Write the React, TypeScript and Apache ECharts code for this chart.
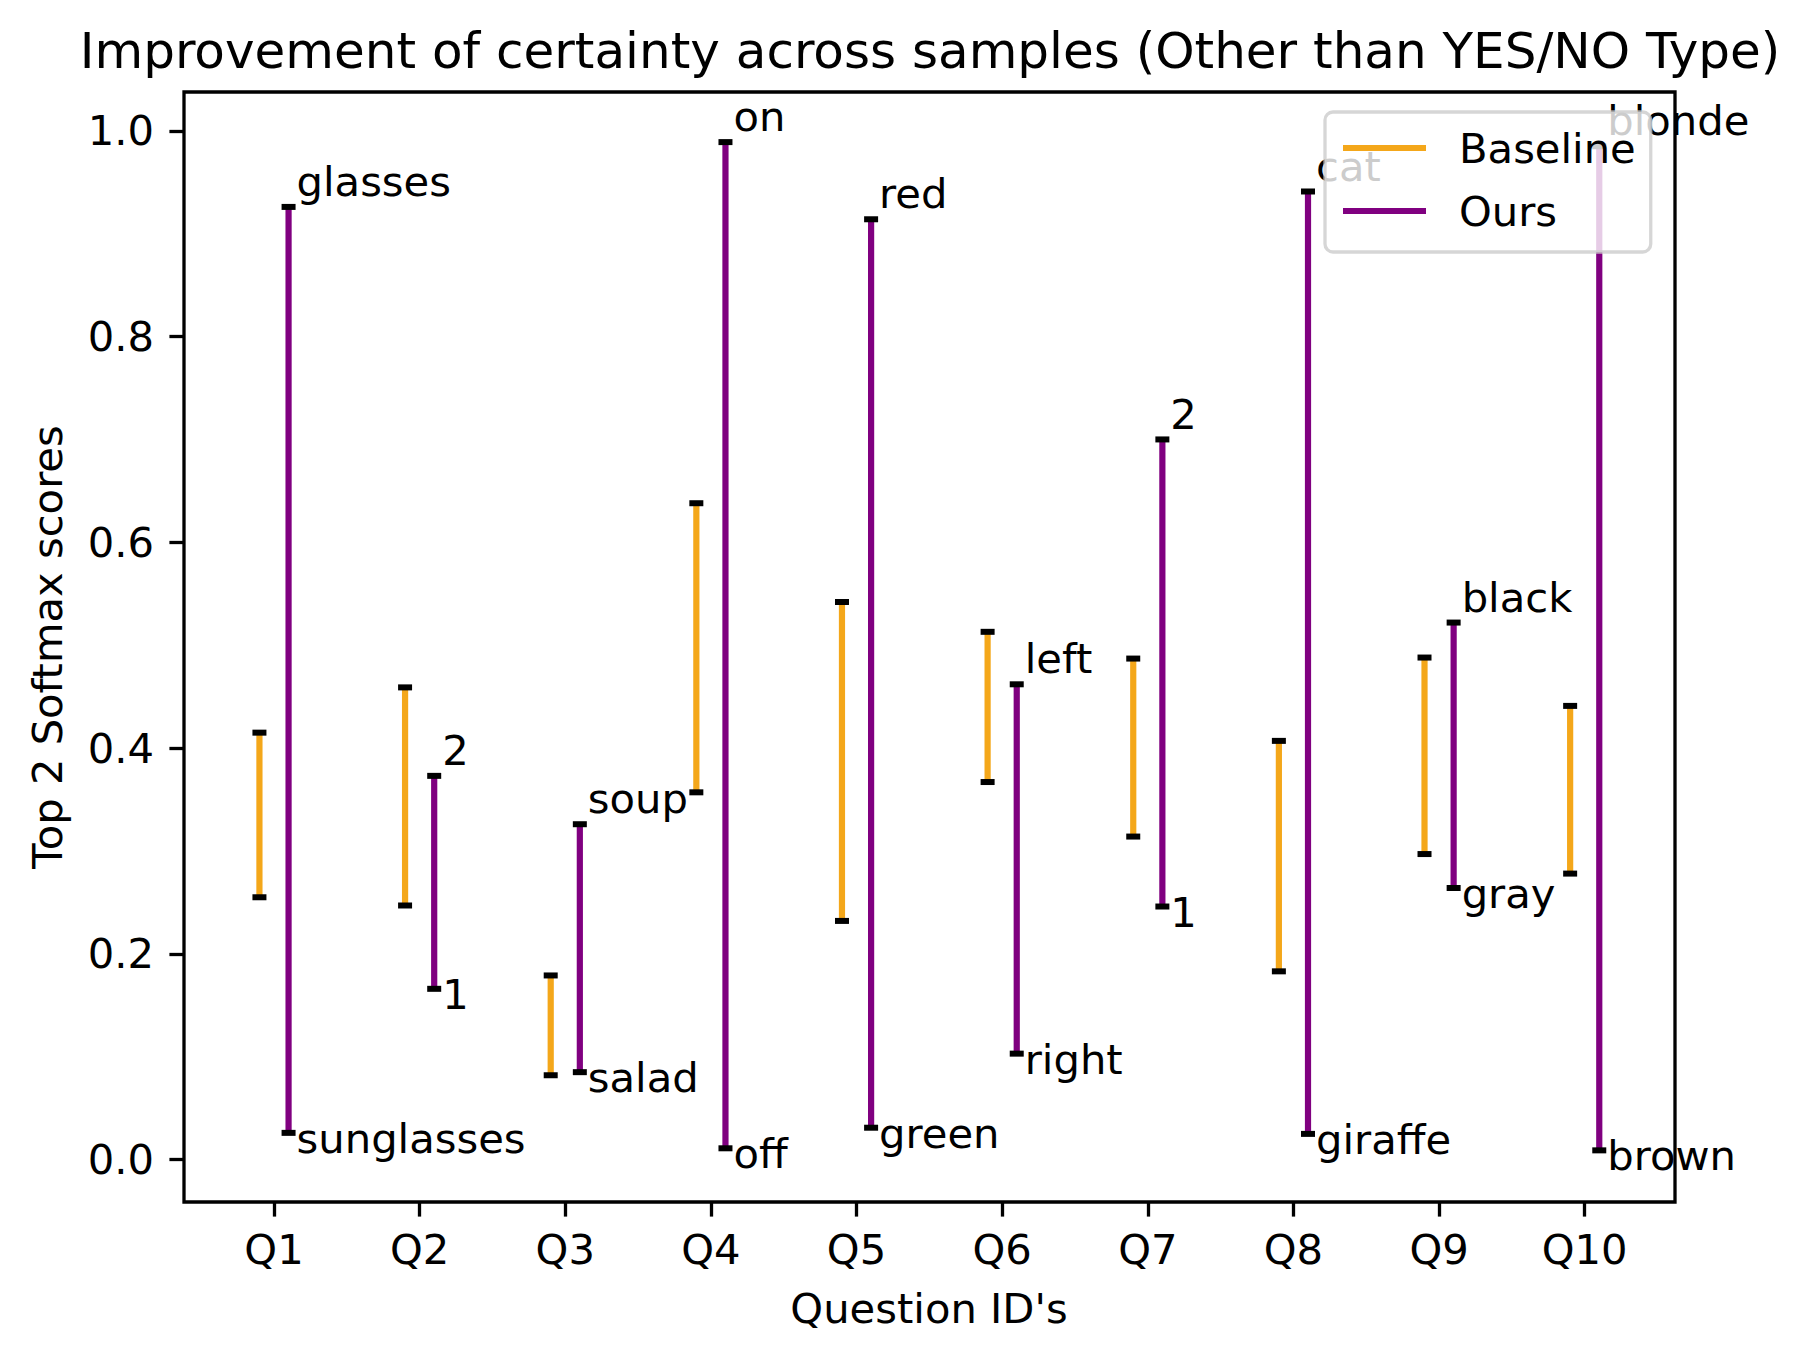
import React, { useEffect, useRef } from "react";
import * as echarts from "echarts";

const categories = ["Q1", "Q2", "Q3", "Q4", "Q5", "Q6", "Q7", "Q8", "Q9", "Q10"];
const baselineLow = [0.255, 0.247, 0.082, 0.357, 0.232, 0.367, 0.314, 0.183, 0.297, 0.278];
const baselineHigh = [0.415, 0.459, 0.179, 0.638, 0.542, 0.513, 0.487, 0.407, 0.488, 0.441];
const oursLow = [0.026, 0.166, 0.085, 0.011, 0.031, 0.103, 0.246, 0.025, 0.264, 0.009];
const oursHigh = [0.926, 0.373, 0.326, 0.989, 0.914, 0.462, 0.7, 0.941, 0.522, 0.985];
const topLabels = ["glasses", "2", "soup", "on", "red", "left", "2", "cat", "black", "blonde"];
const bottomLabels = ["sunglasses", "1", "salad", "off", "green", "right", "1", "giraffe", "gray", "brown"];
const yTicks = [0, 0.2, 0.4, 0.6, 0.8, 1.0];
const xTicks = [1, 2, 3, 4, 5, 6, 7, 8, 9, 10];

const FONT = "DejaVu Sans";
const FS = 41.7;
const TITLE_FS = 50;
const MID = 0.346 * FS;
const ORANGE = "#F4A71A";
const PURPLE = "#800080";

function makeRender(withLabels: boolean, color: string) {
  return (params: any, api: any) => {
    const x = api.value(0);
    const lo = api.value(1);
    const hi = api.value(2);
    const pLo = api.coord([x, lo]);
    const pHi = api.coord([x, hi]);
    const children: any[] = [
      {
        type: "line",
        shape: { x1: pLo[0], y1: pLo[1], x2: pHi[0], y2: pHi[1] },
        style: { stroke: color, lineWidth: 6.2 },
      },
      {
        type: "line",
        shape: { x1: pLo[0] - 7, y1: pLo[1], x2: pLo[0] + 7, y2: pLo[1] },
        style: { stroke: "#000", lineWidth: 6 },
      },
      {
        type: "line",
        shape: { x1: pHi[0] - 7, y1: pHi[1], x2: pHi[0] + 7, y2: pHi[1] },
        style: { stroke: "#000", lineWidth: 6 },
      },
    ];
    if (withLabels) {
      const idx = params.dataIndex;
      children.push({
        type: "text",
        x: pHi[0] + 8,
        y: pHi[1] - 11 - MID,
        style: {
          text: topLabels[idx],
          fontSize: FS,
          fontFamily: FONT,
          fill: "#000",
          align: "left",
          verticalAlign: "middle",
        },
      });
      children.push({
        type: "text",
        x: pLo[0] + 8,
        y: pLo[1] + 20 - MID,
        style: {
          text: bottomLabels[idx],
          fontSize: FS,
          fontFamily: FONT,
          fill: "#000",
          align: "left",
          verticalAlign: "middle",
        },
      });
    }
    return { type: "group", children };
  };
}

export default function App() {
  const ref = useRef<HTMLDivElement>(null);
  useEffect(() => {
    if (!ref.current) return;
    const chart = echarts.init(ref.current, undefined, { renderer: "svg" });
    const baselineData = categories.map((_, i) => [i + 1 - 0.1, baselineLow[i], baselineHigh[i]]);
    const oursData = categories.map((_, i) => [i + 1 + 0.1, oursLow[i], oursHigh[i]]);
    chart.setOption({
      animation: false,
      backgroundColor: "#fff",
      grid: {
        left: 184,
        top: 92,
        width: 1491,
        height: 1110,
        show: true,
        borderColor: "#000",
        borderWidth: 3.3,
        backgroundColor: "transparent",
      },
      xAxis: {
        type: "value",
        min: 0.382,
        max: 10.62,
        splitLine: { show: false },
        axisLine: { show: false, onZero: false },
        axisTick: {
          show: true,
          customValues: xTicks,
          length: 14.6,
          lineStyle: { color: "#000", width: 3.3 },
        },
        axisLabel: {
          customValues: xTicks,
          formatter: (v: number) => categories[Math.round(v) - 1],
          margin: 26,
          fontSize: FS,
          fontFamily: FONT,
          color: "#000",
        },
      },
      yAxis: {
        type: "value",
        min: -0.0412,
        max: 1.0377,
        splitLine: { show: false },
        axisLine: { show: false, onZero: false },
        axisTick: {
          show: true,
          customValues: yTicks,
          length: 14.6,
          lineStyle: { color: "#000", width: 3.3 },
        },
        axisLabel: {
          customValues: yTicks,
          formatter: (v: number) => v.toFixed(1),
          margin: 30,
          fontSize: FS,
          fontFamily: FONT,
          color: "#000",
        },
      },
      legend: {
        orient: "vertical",
        left: 1325,
        top: 112,
        padding: [15, 15, 20, 18],
        itemGap: 21,
        itemWidth: 83,
        itemHeight: 6,
        icon: "rect",
        backgroundColor: "rgba(255,255,255,0.8)",
        borderColor: "rgba(204,204,204,0.8)",
        borderWidth: 3.3,
        borderRadius: 8,
        selectedMode: false,
        textStyle: {
          fontSize: FS,
          fontFamily: FONT,
          color: "#000",
          lineHeight: 42,
          padding: [0, 0, 0, 28],
        },
        data: [
          { name: "Baseline", itemStyle: { color: ORANGE } },
          { name: "Ours", itemStyle: { color: PURPLE } },
        ],
      },
      graphic: [
        {
          type: "text",
          x: 930,
          y: 68 - 0.346 * TITLE_FS,
          style: {
            text: "Improvement of certainty across samples (Other than YES/NO Type)",
            fontSize: TITLE_FS,
            fontFamily: FONT,
            fill: "#000",
            align: "center",
            verticalAlign: "middle",
          },
        },
        {
          type: "text",
          x: 929,
          y: 1323 - MID,
          style: {
            text: "Question ID's",
            fontSize: FS,
            fontFamily: FONT,
            fill: "#000",
            align: "center",
            verticalAlign: "middle",
          },
        },
        {
          type: "text",
          x: 62 - MID,
          y: 647,
          rotation: Math.PI / 2,
          style: {
            text: "Top 2 Softmax scores",
            fontSize: FS,
            fontFamily: FONT,
            fill: "#000",
            align: "center",
            verticalAlign: "middle",
          },
        },
      ],
      series: [
        {
          name: "Baseline",
          type: "custom",
          itemStyle: { color: ORANGE },
          encode: { x: 0, y: [1, 2] },
          clip: false,
          renderItem: makeRender(false, ORANGE),
          data: baselineData,
        },
        {
          name: "Ours",
          type: "custom",
          itemStyle: { color: PURPLE },
          encode: { x: 0, y: [1, 2] },
          clip: false,
          renderItem: makeRender(true, PURPLE),
          data: oursData,
        },
      ],
    });
    return () => chart.dispose();
  }, []);
  return (
    <div
      ref={ref}
      style={{ position: "fixed", left: 0, top: 0, width: 1813, height: 1361, background: "#fff" }}
    />
  );
}
